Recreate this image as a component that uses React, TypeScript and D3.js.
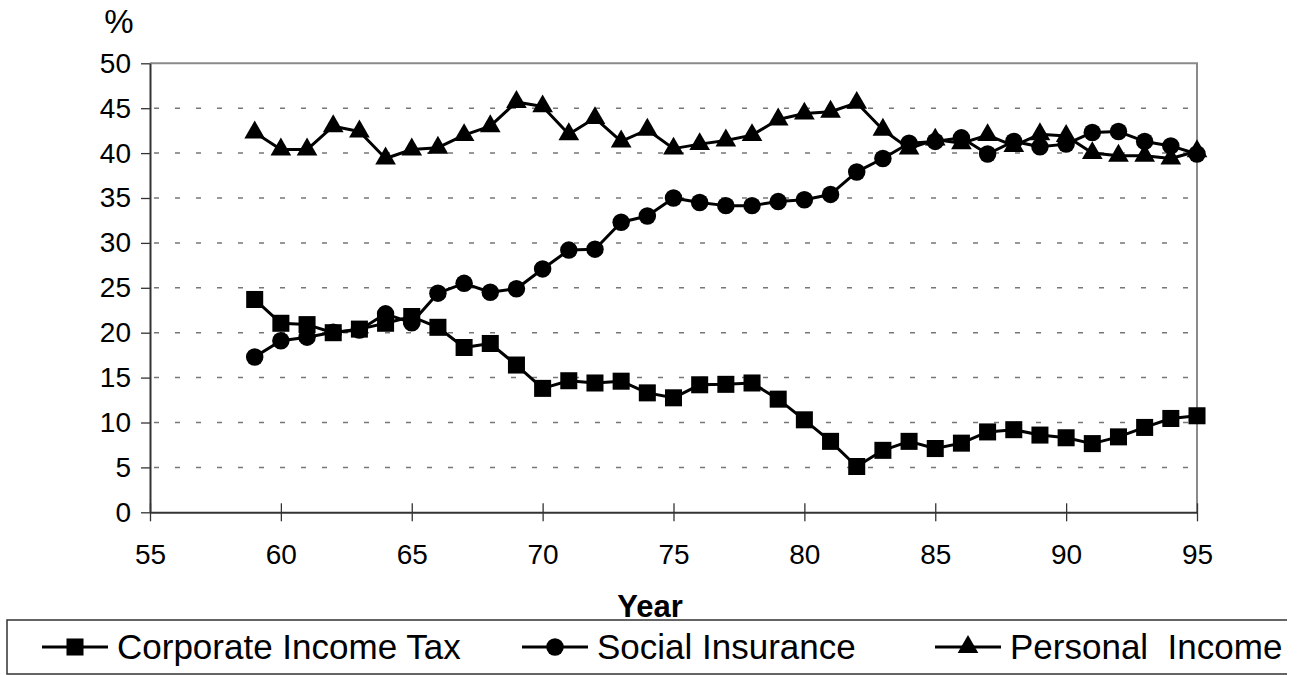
import { useEffect, useRef } from 'react';
import * as d3 from 'd3';

const years = d3.range(59, 96);
const corporate = [23.7, 21.05, 20.9, 20.0, 20.4, 21.05, 21.8, 20.6, 18.35, 18.8, 16.4, 13.8, 14.65, 14.4, 14.6, 13.3, 12.75, 14.2, 14.25, 14.4, 12.6, 10.3, 7.9, 5.1, 6.9, 7.9, 7.1, 7.7, 8.95, 9.2, 8.6, 8.3, 7.65, 8.4, 9.45, 10.45, 10.75];
const social = [17.3, 19.1, 19.5, 20.05, 20.3, 22.1, 21.1, 24.4, 25.5, 24.5, 24.9, 27.1, 29.2, 29.3, 32.3, 33.0, 35.0, 34.5, 34.15, 34.15, 34.6, 34.8, 35.4, 37.9, 39.4, 41.1, 41.3, 41.7, 39.9, 41.3, 40.7, 41.0, 42.3, 42.4, 41.3, 40.8, 39.9];
const personal = [42.3, 40.4, 40.4, 43.0, 42.4, 39.4, 40.4, 40.6, 42.0, 43.0, 45.7, 45.2, 42.1, 43.9, 41.3, 42.6, 40.5, 41.0, 41.4, 42.0, 43.75, 44.4, 44.6, 45.6, 42.6, 40.5, 41.5, 41.1, 42.0, 40.8, 42.1, 41.9, 40.0, 39.7, 39.7, 39.4, 40.2];
const seriesNames = ['Corporate Income Tax', 'Social Insurance', 'Personal  Income'];
const xTicks = [55, 60, 65, 70, 75, 80, 85, 90, 95];
const yTicks = [0, 5, 10, 15, 20, 25, 30, 35, 40, 45, 50];

const FONT = '"Liberation Sans", Arial, sans-serif';

const App = () => {
    const ref = useRef(null);

    useEffect(() => {
        const svg = d3.select(ref.current);
        svg.selectAll('*').remove();
        const width = 1300;
        const height = 675;
        const plot = { left: 150, right: 1197, top: 63.3, bottom: 512.3 };

        const x = d3.scaleLinear().domain([55, 95]).range([plot.left, plot.right]);
        const y = d3.scaleLinear().domain([0, 50]).range([plot.bottom, plot.top]);

        svg.append('rect').attr('width', width).attr('height', height).attr('fill', '#fff');

        // dashed gridlines
        svg.append('g')
            .selectAll('line').data(yTicks.filter(d => d > 0 && d < 50)).enter().append('line')
            .attr('x1', plot.left + 4).attr('x2', plot.right - 4)
            .attr('y1', d => y(d)).attr('y2', d => y(d))
            .attr('stroke', '#777').attr('stroke-width', 1.5)
            .attr('stroke-dasharray', '5 16');

        // top and right frame
        svg.append('path')
            .attr('d', `M${plot.left},${plot.top}H${plot.right}V${plot.bottom}`)
            .attr('fill', 'none').attr('stroke', '#8a8a8a').attr('stroke-width', 2);

        const yAxis = svg.append('g')
            .attr('transform', `translate(${plot.left},0)`)
            .call(d3.axisLeft(y).tickValues(yTicks).tickSize(9).tickPadding(10).tickSizeOuter(0));
        const xAxis = svg.append('g')
            .attr('transform', `translate(0,${plot.bottom})`)
            .call(d3.axisBottom(x).tickValues(xTicks).tickSize(9).tickPadding(23).tickSizeOuter(0));
        xAxis.selectAll('.tick line').attr('y1', -9);
        for (const g of [xAxis, yAxis]) {
            g.select('.domain').attr('stroke', '#333').attr('stroke-width', 2);
            g.selectAll('.tick line').attr('stroke', '#333').attr('stroke-width', 1.3);
            g.selectAll('text')
                .attr('font-family', FONT).attr('font-size', 28).attr('fill', '#000');
        }

        const series = [corporate, social, personal];
        const symbols = [d3.symbolSquare, d3.symbolCircle, d3.symbolTriangle];
        const sizes = [290, 240, 185];
        const line = d3.line().x((d, i) => x(years[i])).y(d => y(d));

        series.forEach((vals, k) => {
            const g = svg.append('g');
            g.append('path')
                .attr('d', line(vals))
                .attr('fill', 'none').attr('stroke', '#000').attr('stroke-width', 3)
                .attr('stroke-linejoin', 'round');
            g.selectAll('path.m').data(vals).enter().append('path')
                .attr('class', 'm')
                .attr('transform', (d, i) => `translate(${x(years[i])},${y(d)})`)
                .attr('d', d3.symbol().type(symbols[k]).size(sizes[k]))
                .attr('fill', '#000');
        });

        svg.append('text')
            .attr('x', 119).attr('y', 33)
            .attr('text-anchor', 'middle')
            .attr('font-family', FONT).attr('font-size', 33)
            .text('%');

        svg.append('text')
            .attr('x', 650).attr('y', 617)
            .attr('text-anchor', 'middle')
            .attr('font-family', FONT).attr('font-size', 31).attr('font-weight', 'bold')
            .text('Year');

        // legend
        svg.append('path')
            .attr('d', 'M1287,620H7V674H1287')
            .attr('fill', 'none').attr('stroke', '#333').attr('stroke-width', 1.5);
        const legendX = [42, 522, 935];
        seriesNames.forEach((name, k) => {
            const g = svg.append('g').attr('transform', `translate(${legendX[k]},647)`);
            g.append('line').attr('x1', 0).attr('x2', 66).attr('stroke', '#000').attr('stroke-width', 3);
            g.append('path')
                .attr('transform', 'translate(33,0)')
                .attr('d', d3.symbol().type(symbols[k]).size(sizes[k]))
                .attr('fill', '#000');
            g.append('text')
                .attr('x', 75).attr('y', 12)
                .attr('font-family', FONT).attr('font-size', 35)
                .attr('xml:space', 'preserve')
                .style('white-space', 'pre')
                .text(name);
        });
    }, []);

    return (
        <svg ref={ref} width={1300} height={675} style={{ position: 'absolute', left: 0, top: 0 }} />
    );
};

export default App;
